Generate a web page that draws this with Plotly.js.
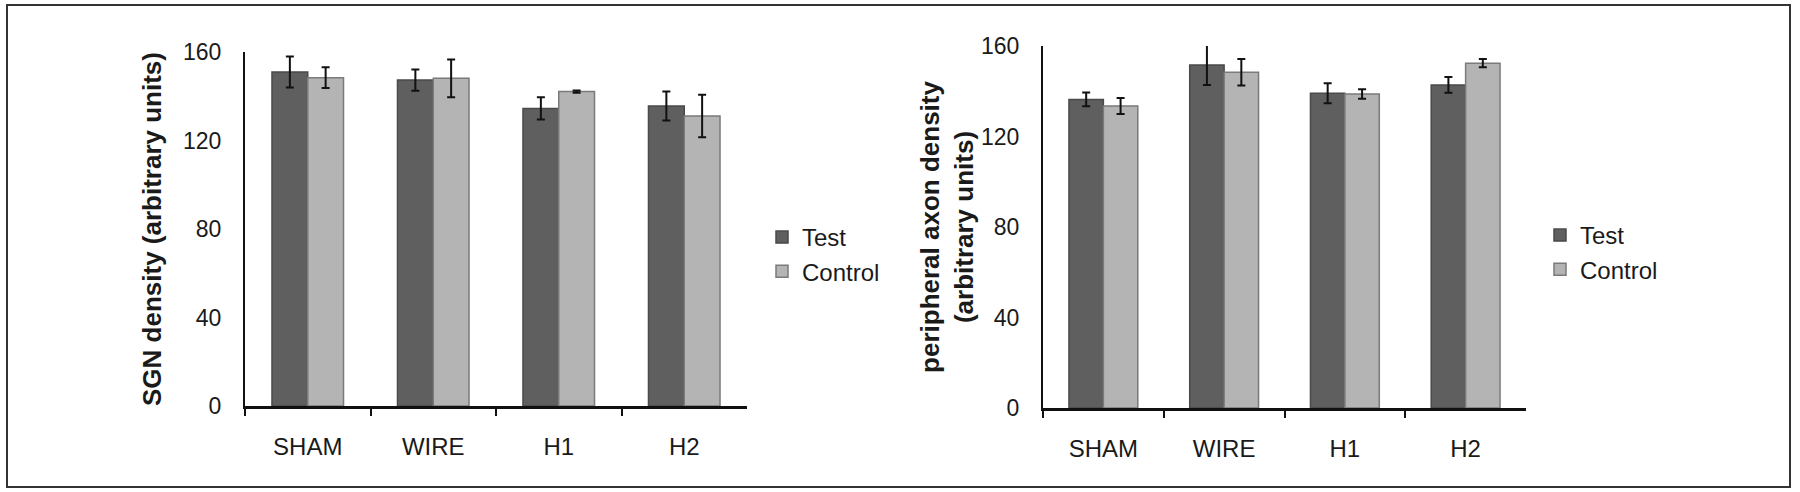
<!DOCTYPE html>
<html>
<head>
<meta charset="utf-8">
<script src="https://cdn.plot.ly/plotly-3.0.1.min.js"></script>
<style>
  html, body { margin: 0; padding: 0; background: #ffffff; }
  #chart { width: 1800px; height: 492px; }
</style>
</head>
<body>
<div id="chart"></div>
<script>
// Categories
const categories = ["SHAM", "WIRE", "H1", "H2"];
const seriesNames = ["Test", "Control"];

// Left panel: SGN density
const sgnTest = [151.0, 147.3, 134.5, 135.6];
const sgnTestErr = [7.0, 4.8, 5.0, 6.6];
const sgnControl = [148.4, 148.1, 142.1, 131.1];
const sgnControlErr = [4.7, 8.5, 0.5, 9.6];

// Right panel: peripheral axon density
const axonTest = [136.4, 151.6, 139.1, 142.8];
const axonTestErr = [3.0, 8.8, 4.4, 3.5];
const axonControl = [133.5, 148.4, 138.8, 152.4];
const axonControlErr = [3.5, 5.9, 2.1, 1.8];

// Axis titles and ticks
const leftYTitle = "SGN density (arbitrary units)";
const rightYTitle = "peripheral axon density<br>(arbitrary units)";
const yTickVals = [0, 40, 80, 120, 160];

const FONT = "Liberation Sans, Arial, sans-serif";
const TEST_FILL = "#5f5f5f", TEST_LINE = "#4a4a4a";
const CTRL_FILL = "#b4b4b4", CTRL_LINE = "#7a7a7a";

function barTrace(name, y, err, fill, line, xa, ya, legend) {
  return {
    type: "bar", name: name, x: categories, y: y,
    xaxis: xa, yaxis: ya, legend: legend,
    marker: { color: fill, line: { color: line, width: 1.5 } },
    error_y: { type: "data", array: err, visible: true, color: "#111111", thickness: 2, width: 4 },
    hoverinfo: "x+y"
  };
}

const data = [
  barTrace(seriesNames[0], sgnTest, sgnTestErr, TEST_FILL, TEST_LINE, "x", "y", "legend"),
  barTrace(seriesNames[1], sgnControl, sgnControlErr, CTRL_FILL, CTRL_LINE, "x", "y", "legend"),
  barTrace(seriesNames[0], axonTest, axonTestErr, TEST_FILL, TEST_LINE, "x2", "y2", "legend2"),
  barTrace(seriesNames[1], axonControl, axonControlErr, CTRL_FILL, CTRL_LINE, "x2", "y2", "legend2")
];

const W = 1800, H = 492;
const px = v => v / W;
const py = v => 1 - v / H;

function xAxis(domain, anchor) {
  return {
    domain: domain, anchor: anchor, type: "category",
    showline: true, linecolor: "#111111", linewidth: 2.5,
    ticks: "outside", ticklen: 7, tickwidth: 2, tickcolor: "#111111",
    tickson: "boundaries", ticklabelstandoff: 18,
    tickfont: { family: FONT, size: 24, color: "#1a1a1a" },
    showgrid: false, zeroline: false, fixedrange: true
  };
}
function yAxis(domain, anchor, title, standoff) {
  return {
    domain: domain, anchor: anchor, range: [0, 160],
    tickvals: yTickVals, ticktext: yTickVals.map(String),
    showline: true, linecolor: "#111111", linewidth: 2,
    ticks: "", ticklabelstandoff: 17,
    tickfont: { family: FONT, size: 23, color: "#1a1a1a" },
    showgrid: false, zeroline: false, fixedrange: true,
    title: { text: title, standoff: standoff, font: { family: FONT, size: 26, color: "#1a1a1a", weight: "bold" } }
  };
}

const legendCommon = {
  orientation: "v", xanchor: "left", yanchor: "top",
  font: { family: FONT, size: 24, color: "#1a1a1a" },
  bgcolor: "rgba(0,0,0,0)", borderwidth: 0, itemwidth: 30, tracegroupgap: 0
};

const layout = {
  width: W, height: H,
  margin: { l: 0, r: 0, t: 0, b: 0 },
  paper_bgcolor: "#ffffff", plot_bgcolor: "#ffffff",
  showlegend: true,
  barmode: "group", bargap: 0.43, bargroupgap: 0,
  xaxis: xAxis([px(245), px(747)], "y"),
  yaxis: yAxis([py(406), py(52)], "x", leftYTitle, 14),
  xaxis2: xAxis([px(1043), px(1526)], "y2"),
  yaxis2: yAxis([py(408), py(46)], "x2", rightYTitle, 0),
  legend: Object.assign({}, legendCommon, { x: px(762), y: py(215) }),
  legend2: Object.assign({}, legendCommon, { x: px(1540), y: py(213) }),
  shapes: [
    { type: "rect", xref: "paper", yref: "paper",
      x0: px(7), x1: px(1790), y0: py(487), y1: py(5),
      line: { color: "#333333", width: 2 }, fillcolor: "rgba(0,0,0,0)", layer: "below" }
  ]
};

Plotly.newPlot("chart", data, layout, { displayModeBar: false, staticPlot: true });
</script>
</body>
</html>
